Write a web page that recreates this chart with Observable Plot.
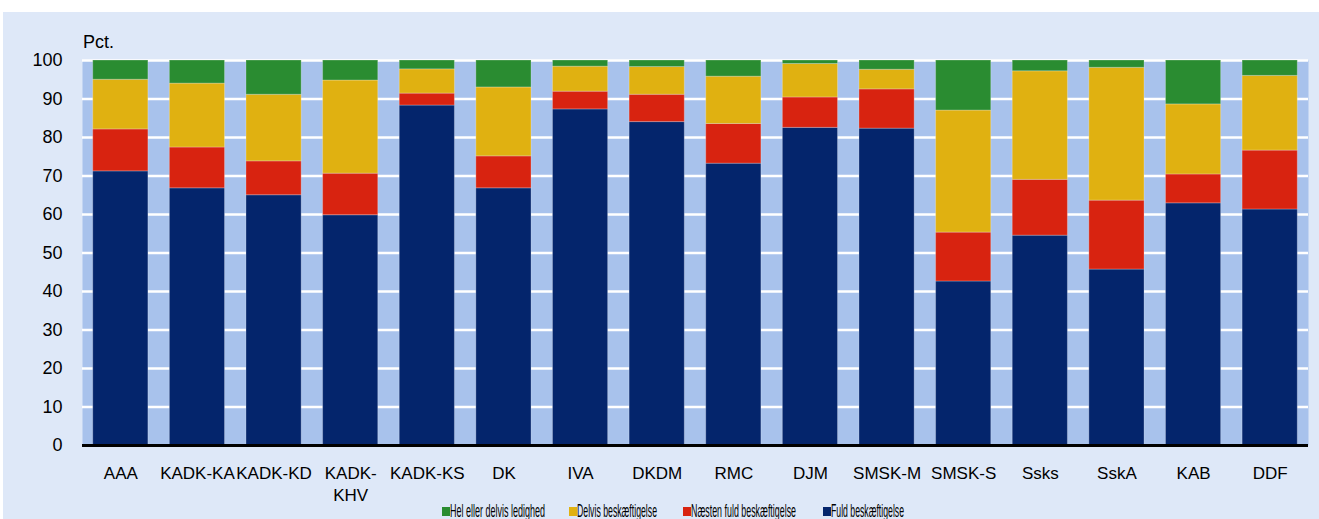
<!DOCTYPE html>
<html>
<head>
<meta charset="utf-8">
<script src="https://cdn.jsdelivr.net/npm/d3@7"></script>
<script src="https://cdn.jsdelivr.net/npm/@observablehq/plot@0.6"></script>
<style>
  html, body { margin: 0; padding: 0; background: #ffffff; width: 1319px; height: 519px; overflow: hidden; }
  #panel { position: absolute; left: 3px; top: 12px; width: 1316px; height: 507px; background: #dee8f8; }
  #chart { position: absolute; left: 0; top: 12px; }
  #pct { position: absolute; left: 83px; top: 32px; font: 18px "Liberation Sans", Arial, sans-serif; color: #000; }
  .leg { position: absolute; top: 500px; font: 19px "Liberation Sans Narrow", "Liberation Sans", sans-serif; color: #000; white-space: nowrap; }
  .leg .sw { position: absolute; left: 0; top: 7px; width: 8px; height: 9px; }
  .leg .tx { position: absolute; left: 8px; top: 0; transform-origin: 0 0; }
</style>
</head>
<body>
<div id="panel"></div>
<div id="chart"></div>
<div id="pct">Pct.</div>
<div id="legend"></div>
<script>
const categories = ["AAA","KADK-KA","KADK-KD","KADK-KHV","KADK-KS","DK","IVA","DKDM","RMC","DJM","SMSK-M","SMSK-S","Ssks","SskA","KAB","DDF"];
const fuld    = [71.2, 66.8, 65.0, 59.8, 88.3, 66.8, 87.3, 84.0, 73.2, 82.5, 82.3, 42.6, 54.5, 45.7, 62.9, 61.3];
const naesten = [10.9, 10.6,  8.8, 10.8,  3.1,  8.3,  4.6,  7.1, 10.3,  7.9, 10.2, 12.7, 14.5, 17.9,  7.5, 15.3];
const delvis  = [12.9, 16.6, 17.3, 24.2,  6.3, 17.9,  6.5,  7.2, 12.3,  8.7,  5.1, 31.7, 28.2, 34.5, 18.2, 19.4];
const hel     = [ 5.0,  6.0,  8.9,  5.2,  2.3,  7.0,  1.6,  1.7,  4.2,  0.9,  2.4, 13.0,  2.8,  1.9, 11.4,  4.0];
const seriesNames = ["Fuld beskæftigelse","Næsten fuld beskæftigelse","Delvis beskæftigelse","Hel eller delvis ledighed"];
const seriesColors = ["#04256c","#d82310","#e0b111","#2a8c31"];
const legendOrder = ["Hel eller delvis ledighed","Delvis beskæftigelse","Næsten fuld beskæftigelse","Fuld beskæftigelse"];
const yTicks = [0,10,20,30,40,50,60,70,80,90,100];
const tickLabels = {"KADK-KHV": "KADK-\nKHV"};

const seriesValues = [fuld, naesten, delvis, hel];
const data = categories.flatMap((c, i) => seriesValues.map((arr, k) => ({cat: c, serie: seriesNames[k], value: arr[i]})));

const chart = Plot.plot({
  width: 1319,
  height: 507,
  marginLeft: 82,
  marginRight: 11,
  marginTop: 48,
  marginBottom: 74,
  style: {background: "transparent", fontFamily: "'Liberation Sans', Arial, sans-serif", fontSize: "18px", color: "#000"},
  x: {domain: categories, paddingInner: 0.28, paddingOuter: 0.14, round: false, label: null},
  y: {domain: [0, 100], label: null},
  color: {domain: seriesNames, range: seriesColors},
  marks: [
    Plot.frame({fill: "#a8c2ec", stroke: null}),
    Plot.ruleY(yTicks.filter(t => t > 0), {stroke: "#ffffff", strokeWidth: 2.5}),
    Plot.barY(data, {x: "cat", y: "value", fill: "serie", order: seriesNames, stroke: "#ffffff", strokeOpacity: 0.25, strokeWidth: 1}),
    Plot.ruleY([0], {stroke: "#000000", strokeWidth: 3}),
    Plot.axisX({tickSize: 0, tickPadding: 18, label: null, lineHeight: 1.28, fontSize: 17, tickFormat: d => tickLabels[d] ?? d}),
    Plot.axisY({ticks: yTicks, tickSize: 0, tickPadding: 20, label: null})
  ]
});
document.getElementById("chart").appendChild(chart);

// legend
const legendX = [442, 569, 683, 823];
const legendW = [95, 80, 105, 73];
const legend = document.getElementById("legend");
legendOrder.forEach((name, i) => {
  const item = document.createElement("div");
  item.className = "leg";
  item.style.left = legendX[i] + "px";
  const sw = document.createElement("span");
  sw.className = "sw";
  sw.style.background = seriesColors[seriesNames.indexOf(name)];
  const tx = document.createElement("span");
  tx.className = "tx";
  tx.textContent = name;
  item.appendChild(sw);
  item.appendChild(tx);
  legend.appendChild(item);
  const w = tx.getBoundingClientRect().width;
  tx.style.transform = `scaleX(${legendW[i] / w})`;
});
</script>
</body>
</html>
